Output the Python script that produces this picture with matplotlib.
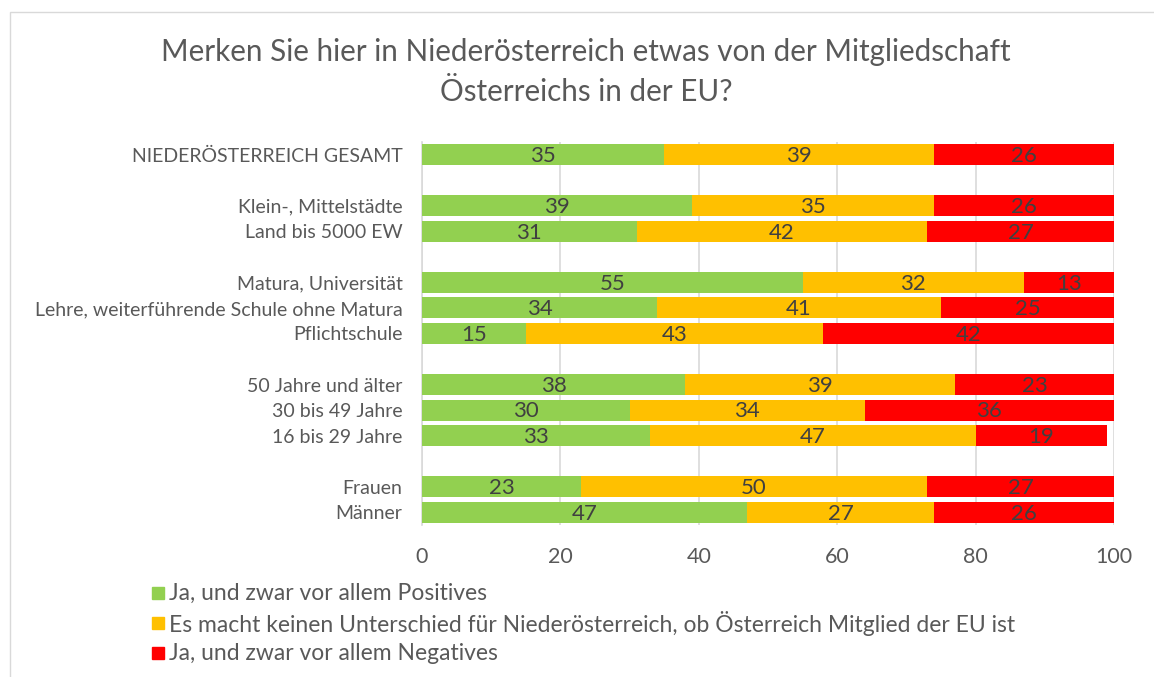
"""Stacked bar chart: EU membership perception in Lower Austria."""
import matplotlib

matplotlib.use("Agg")
import matplotlib.pyplot as plt
from matplotlib.patches import Rectangle

plt.rcParams["font.family"] = ["Lato", "DejaVu Sans"]

CATEGORIES = [
    "NIEDERÖSTERREICH GESAMT",
    "",
    "Klein-, Mittelstädte",
    "Land bis 5000 EW",
    "",
    "Matura, Universität",
    "Lehre, weiterführende Schule ohne Matura",
    "Pflichtschule",
    "",
    "50 Jahre und älter",
    "30 bis 49 Jahre",
    "16 bis 29 Jahre",
    "",
    "Frauen",
    "Männer",
]
POSITIVE = [35, None, 39, 31, None, 55, 34, 15, None, 38, 30, 33, None, 23, 47]
NEUTRAL = [39, None, 35, 42, None, 32, 41, 43, None, 39, 34, 47, None, 50, 27]
NEGATIVE = [26, None, 26, 27, None, 13, 25, 42, None, 23, 36, 19, None, 27, 26]

SERIES_NAMES = [
    "Ja, und zwar vor allem Positives",
    "Es macht keinen Unterschied für Niederösterreich, ob Österreich Mitglied der EU ist",
    "Ja, und zwar vor allem Negatives",
]
COLORS = ["#92D050", "#FFC000", "#FF0000"]
TITLE_LINES = ["Merken Sie hier in Niederösterreich etwas von der Mitgliedschaft",
               "Österreichs in der EU?"]

TEXT = "#595959"
LABEL = "#404040"
W, H = 1154, 677

fig = plt.figure(figsize=(W / 100, H / 100), dpi=100)
ax = fig.add_axes([422 / W, 1 - 525 / H, 692 / W, 383 / H])

rows = list(range(len(CATEGORIES)))
left = [0.0] * len(rows)
for values, color in zip([POSITIVE, NEUTRAL, NEGATIVE], COLORS):
    for row, value in zip(rows, values):
        if value is None:
            continue
        ax.barh(row, value, left=left[row], height=0.82, color=color, zorder=3)
        ax.text(left[row] + value / 2, row + 0.05, str(value), ha="center", va="center",
                fontsize=16, color=LABEL, zorder=4)
        left[row] += value

ax.set_ylim(len(rows) - 0.5, -0.5)
ax.set_xlim(0, 100)
ax.set_yticks(rows, CATEGORIES)
ax.set_xticks(range(0, 101, 20))
ax.tick_params(axis="y", length=0, pad=14, labelsize=14, labelcolor=TEXT)
ax.tick_params(axis="x", length=0, pad=16, labelsize=15.5, labelcolor=TEXT)
ax.grid(axis="x", color="#D9D9D9", linewidth=1.2, zorder=0)
for side in ["top", "right", "bottom"]:
    ax.spines[side].set_visible(False)
ax.spines["left"].set_color("#D9D9D9")
ax.spines["left"].set_linewidth(1.2)

# two title lines placed separately to match the wide line gap
for i, line in enumerate(TITLE_LINES):
    fig.text(586 / W, 1 - (52 + i * 40) / H, line, ha="center", va="center",
             fontsize=21.3, color=TEXT)

# legend drawn by hand so the three rows are evenly spaced
for i, (name, color) in enumerate(zip(SERIES_NAMES, COLORS)):
    y = 593 + i * 30
    fig.patches.append(Rectangle((152 / W, 1 - (y + 6) / H), 12 / W, 12 / H,
                                 transform=fig.transFigure, color=color))
    fig.text(169 / W, 1 - y / H, name, ha="left", va="center", fontsize=16.5, color=TEXT)

fig.patches.append(Rectangle((10 / W, -0.05), 1.1, 1.05 - 12 / H, transform=fig.transFigure,
                             fill=False, edgecolor="#D9D9D9", linewidth=1))

fig.savefig("out.png", dpi=100)
